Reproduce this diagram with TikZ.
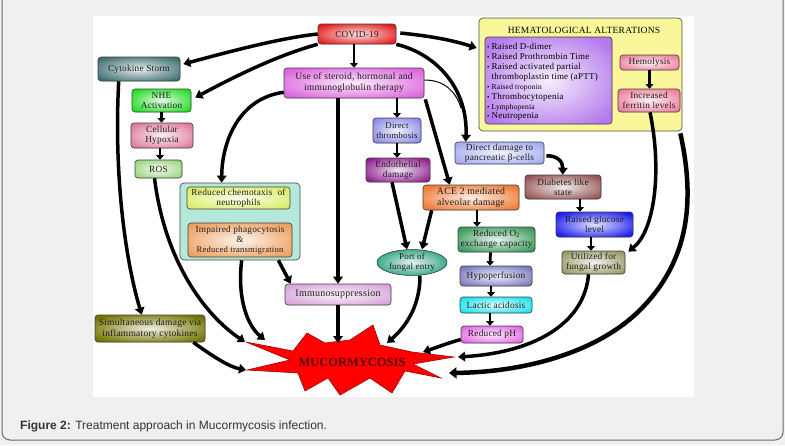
\documentclass[tikz,border=0pt]{standalone}
\usepackage{fontspec}
\setmainfont{Liberation Serif}
\newfontfamily\capfont{Liberation Sans}
\newfontfamily\boxfont[LetterSpace=2.5]{Liberation Serif}
\usetikzlibrary{arrows.meta,calc,shapes.geometric}
\definecolor{cBg}{HTML}{F0F0F0}
\definecolor{cFrame}{HTML}{6A6A6A}
\definecolor{cCovid}{HTML}{E31B1B}
\definecolor{cCyto}{HTML}{3F6F72}
\definecolor{cSter}{HTML}{DD66DD}
\definecolor{cNhe}{HTML}{22DD22}
\definecolor{cHyp}{HTML}{E07A9C}
\definecolor{cRos}{HTML}{9CD47E}
\definecolor{cTeal}{HTML}{B4E8DA}
\definecolor{cChemo}{HTML}{D8EE6A}
\definecolor{cPhago}{HTML}{EEA060}
\definecolor{cThr}{HTML}{8A8AE6}
\definecolor{cEndo}{HTML}{902090}
\definecolor{cPanc}{HTML}{A4AAEE}
\definecolor{cAce}{HTML}{F07A36}
\definecolor{cPort}{HTML}{1A9A76}
\definecolor{cOtwo}{HTML}{3A9A5A}
\definecolor{cHypo}{HTML}{7A7AC0}
\definecolor{cLac}{HTML}{18E2EA}
\definecolor{cPh}{HTML}{E466E4}
\definecolor{cDia}{HTML}{945454}
\definecolor{cGlu}{HTML}{1A1AEE}
\definecolor{cUtil}{HTML}{9A9A66}
\definecolor{cHema}{HTML}{FAF79A}
\definecolor{cList}{HTML}{B47AEC}
\definecolor{cHml}{HTML}{EE7E9E}
\definecolor{cImm}{HTML}{D8A4D8}
\definecolor{cSim}{HTML}{747400}
\definecolor{cStar}{HTML}{FF0000}
\definecolor{cStarB}{HTML}{A00000}
\definecolor{cMuc}{HTML}{5A0000}
\definecolor{cCap}{HTML}{333333}
\tikzset{
  box/.style={draw=black!75, line width=0.6pt, rounded corners=3pt, align=center,
    inner sep=0.5pt, font=\boxfont\fontsize{9.3}{10.3}\selectfont, text=black!88},
  grad/.style={box, fill=#1, path picture={
    \shade[inner color=#1!12!white, outer color=#1]
      ($(path picture bounding box.south west)!-0.12!(path picture bounding box.north east)$)
      rectangle
      ($(path picture bounding box.north east)!-0.12!(path picture bounding box.south west)$);}},
  arr/.style={line width=3.5pt, -{Triangle[length=7pt,width=9.5pt]}},
  sarr/.style={line width=2.8pt, -{Triangle[length=4.5pt,width=7.5pt]}},
  harr/.style={line width=4.5pt, -{Triangle[length=7.5pt,width=11pt]}},
  thinline/.style={line width=1pt},
}
\begin{document}
\begin{tikzpicture}[x=1pt,y=-1pt]
\useasboundingbox (0,0) rectangle (785,445);
\fill[cBg] (0,0) rectangle (785,445);
\draw[cFrame, line width=1pt, rounded corners=8pt] (2,-20) rectangle (783,440);
\fill[white] (93,16) rectangle (694,397);

% caption
\node[anchor=base west, inner sep=0pt, font=\capfont\fontsize{12}{14}\selectfont, text=cCap] (cap) at (20,429)
  {\textbf{Figure 2:} Treatment approach in Mucormycosis infection.};

% star
\fill[cStar, draw=cStarB, line width=0.6pt] (246,342) -- (293,351) -- (307,333) -- (325,343) -- (350,340) -- (373,325) -- (380,345) -- (412,352) -- (454,357) -- (413,364) -- (441,378) -- (405,371) -- (392,393) -- (370,378) -- (340,395) -- (328,378) -- (305,391) -- (298,373) -- (247,370) -- (290,360) -- cycle;
\node[font=\bfseries\fontsize{12.5}{14}\selectfont, text=cMuc, inner sep=0pt] (muco) at (352,362) {MUCORMYCOSIS};
\coordinate (sRO) at (245,342);
\coordinate (sPG) at (265,340);
\coordinate (sSI) at (246,370);
\coordinate (sIM) at (342,343);
\coordinate (sPO) at (387,343);
\coordinate (sPH) at (423,352);
\coordinate (sUT) at (458,357);
\coordinate (sHE) at (449,373);
\coordinate (mergept) at (461,108);

% containers
\node[draw=black!70, line width=0.7pt, fill=cHema, rounded corners=4pt, minimum width=203pt, minimum height=113pt] (hema) at (580.5,74.5) {};
\node[grad=cList, minimum width=127pt, minimum height=87pt] (list) at (548.5,80.5) {};
\node[font=\boxfont\fontsize{9.5}{10}\selectfont, inner sep=0pt] (hematitle) at (584,30) {HEMATOLOGICAL ALTERATIONS};
\node[anchor=north west, inner sep=0pt, align=left, font=\boxfont\fontsize{9}{9.9}\selectfont] (listtxt) at (487,42.5)
 {\begin{tabular}{@{}l@{\hspace{2pt}}l@{}}
  {\fontsize{7}{9.9}\selectfont\textbullet}&Raised D-dimer\\
  {\fontsize{7}{9.9}\selectfont\textbullet}&Raised Prothrombin Time\\
  {\fontsize{7}{9.9}\selectfont\textbullet}&Raised activated partial\\
  &thromboplastin time (aPTT)\\
  {\fontsize{7}{9.9}\selectfont\textbullet}&{\fontsize{7.5}{9.9}\selectfont Raised troponin}\\
  {\fontsize{7}{9.9}\selectfont\textbullet}&Thrombocytopenia\\
  {\fontsize{7}{9.9}\selectfont\textbullet}&{\fontsize{7.5}{9.9}\selectfont Lymphopenia}\\
  {\fontsize{7}{9.9}\selectfont\textbullet}&Neutropenia
 \end{tabular}};
\node[grad=cHml, minimum width=59pt, minimum height=15pt] (hemol) at (649.5,62.5) {Hemolysis};
\node[grad=cHml, minimum width=62pt, minimum height=23pt] (ferr) at (649,100.5) {Increased\\ferritin levels};

\node[draw=black!70, line width=0.7pt, fill=cTeal, rounded corners=4pt, minimum width=120pt, minimum height=77pt] (teal) at (240,221.5) {};
\node[grad=cChemo, minimum width=103pt, minimum height=22pt] (chemo) at (238.5,198) {Reduced chemotaxis\ \ of\\neutrophils};
\node[grad=cPhago, minimum width=104pt, minimum height=34pt] (phago) at (240,240) {Impaired phagocytosis\\\&\\{\fontsize{8.6}{10}\selectfont Reduced transmigration}};

% boxes
\node[grad=cCovid, minimum width=78pt, minimum height=20pt] (covid) at (357,34) {COVID-19};
\node[grad=cCyto, minimum width=82pt, minimum height=24pt] (cyto) at (139,69) {Cytokine Storm};
\node[grad=cSter, minimum width=140pt, minimum height=30pt, font=\boxfont\fontsize{9.6}{11}\selectfont] (ster) at (354,83) {Use of steroid, hormonal and\\immunoglobulin therapy};
\node[grad=cNhe, minimum width=59pt, minimum height=23pt] (nhe) at (161.5,100.5) {NHE\\Activation};
\node[grad=cHyp, minimum width=62pt, minimum height=25pt] (hyp) at (162,135.5) {Cellular\\Hypoxia};
\node[grad=cRos, minimum width=47pt, minimum height=18pt] (ros) at (158.5,169) {ROS};
\node[grad=cThr, minimum width=48pt, minimum height=25pt, font=\boxfont\fontsize{8.8}{10}\selectfont] (thromb) at (397,130.5) {Direct\\thrombosis};
\node[grad=cEndo, minimum width=64pt, minimum height=24pt] (endo) at (398,170) {Endothelial\\damage};
\node[grad=cPanc, minimum width=89pt, minimum height=22pt] (panc) at (499.5,153) {Direct damage to\\pancreatic β-cells};
\node[grad=cAce, minimum width=96pt, minimum height=25pt, font=\boxfont\fontsize{9.8}{11}\selectfont] (ace) at (471,197.5) {ACE 2 mediated\\alveolar damage};
\node[grad=cPort, ellipse, minimum width=70pt, minimum height=21pt, inner sep=0pt, font=\boxfont\fontsize{9}{10}\selectfont] (port) at (412,262.5) {Port of\\fungal entry};
\node[grad=cOtwo, minimum width=77pt, minimum height=25pt] (redo2) at (496.5,239.5) {Reduced O\textsubscript{2}\\exchange capacity};
\node[grad=cHypo, minimum width=72pt, minimum height=20pt] (hypo) at (496,276) {Hypoperfusion};
\node[grad=cLac, minimum width=72pt, minimum height=16pt] (lactic) at (496,305) {Lactic acidosis};
\node[grad=cPh, minimum width=62pt, minimum height=17pt] (ph) at (492,334.5) {Reduced pH};
\node[grad=cDia, minimum width=76pt, minimum height=24pt] (diab) at (563,187) {Diabetes like\\state};
\node[grad=cGlu, minimum width=77pt, minimum height=25pt] (gluc) at (594.5,224.5) {Raised glucose\\level};
\node[grad=cUtil, minimum width=63pt, minimum height=23pt] (util) at (593.5,262.5) {Utilized for\\fungal growth};
\node[grad=cImm, minimum width=106pt, minimum height=21pt, font=\boxfont\fontsize{10}{11}\selectfont] (immuno) at (338,294.5) {Immunosuppression};
\node[grad=cSim, minimum width=110pt, minimum height=27pt, font=\boxfont\fontsize{9.5}{10.5}\selectfont] (simul) at (150,328.5) {Simultaneous damage via\\inflammatory cytokines};

% connectors
\draw[arr] (covid.west) .. controls (280,38) and (228,52) .. ($(cyto.east)+(3,-5)$);
\draw[arr] (covid.south west) .. controls (275,56) and (232,78) .. ($(nhe.east)+(4,-3)$);
\draw[sarr] (ster.north |- covid.south) -- (ster.north);
\draw[arr] ($(covid.east)+(4,-1)$) .. controls (430,36) and (452,40) .. ($(hema.west)+(-2,-26.5)$);
\draw[arr] (covid.south east) .. controls (440,55) and (468,92) .. ($(panc.north west)+(11,0)$);
\draw[thinline] ($(ster.east)+(0,-3)$) .. controls (445,80) and (456,92) .. (mergept);
\draw[sarr] (thromb.north |- ster.south) -- (thromb.north);
\draw[arr] ($(ster.south east)+(1,1)$) -- ($(ace.north west)+(27,0)$);
\draw[arr] ($(ster.south west)+(0,-6)$) .. controls (240,98) and (222,140) .. ($(teal.north west)+(42,0)$);
\draw[arr] (immuno.north |- ster.south) -- (immuno.north);
\draw[arr] ($(cyto.south west)+(21,0)$) .. controls (114,170) and (124,255) .. ($(simul.north west)+(47,0)$);
\draw[sarr] (nhe.south) -- (nhe.south |- hyp.north);
\draw[sarr] ($(hyp.south)+(-2,0)$) -- ($(hyp.south |- ros.north)+(-2,0)$);
\draw[arr] ($(ros.south)+(-4,0)$) .. controls (165,262) and (205,315) .. (sRO);
\draw[arr] ($(teal.south west)+(62,0)$) .. controls (237,300) and (248,326) .. (sPG);
\draw[arr] ($(teal.south east)+(-22,0)$) -- ($(immuno.north west)+(6,0)$);
\draw[sarr] (thromb.south) -- (thromb.south |- endo.north);
\draw[arr] ($(endo.south)+(-6,0)$) -- ($(port.north)+(-5,0)$);
\draw[arr] ($(ace.south west)+(9,0)$) -- ($(port.north)+(10,0)$);
\draw[arr] ($(port.south)+(8,0)$) .. controls (420,310) and (402,330) .. (sPO);
\draw[arr] (immuno.south) -- (immuno.south |- sIM);
\draw[arr] ($(simul.south east)+(-12,0)$) .. controls (215,358) and (230,367) .. (sSI);
\draw[sarr] ($(ace.south)+(6,0)$) -- ($(redo2.north)+(-19.5,0)$);
\draw[sarr] ($(redo2.south)+(-6,0)$) -- ($(hypo.north)+(-6,0)$);
\draw[sarr] ($(hypo.south)+(-5,0)$) -- ($(lactic.north)+(-5,0)$);
\draw[sarr] ($(lactic.south)+(-6,0)$) -- ($(ph.north)+(-2,0)$);
\draw[arr] ($(ph.west)+(0,5)$) .. controls (445,344) and (435,348) .. (sPH);
\draw[arr] ($(panc.east)+(2,3)$) .. controls (556,155) and (563,161) .. ($(diab.north west)+(38,0)$);
\draw[sarr] ($(diab.south)+(17,0)$) -- ($(gluc.north)+(-14.5,0)$);
\draw[sarr] ($(gluc.south)+(-3.5,0)$) -- ($(util.north)+(-2.5,0)$);
\draw[arr] ($(util.south)+(-5,0)$) .. controls (585,320) and (540,352) .. (sUT);
\draw[arr] ($(ferr.south)+(1,0)$) .. controls (662,170) and (655,230) .. ($(util.north east)+(3,1)$);
\draw[harr] ($(hema.south east)+(-2,2)$) .. controls (695,200) and (690,260) .. (640,310) .. controls (600,350) and (530,372) .. (sHE);
\draw[sarr] (hemol.south) -- (hemol.south |- ferr.north);
\end{tikzpicture}
\end{document}
